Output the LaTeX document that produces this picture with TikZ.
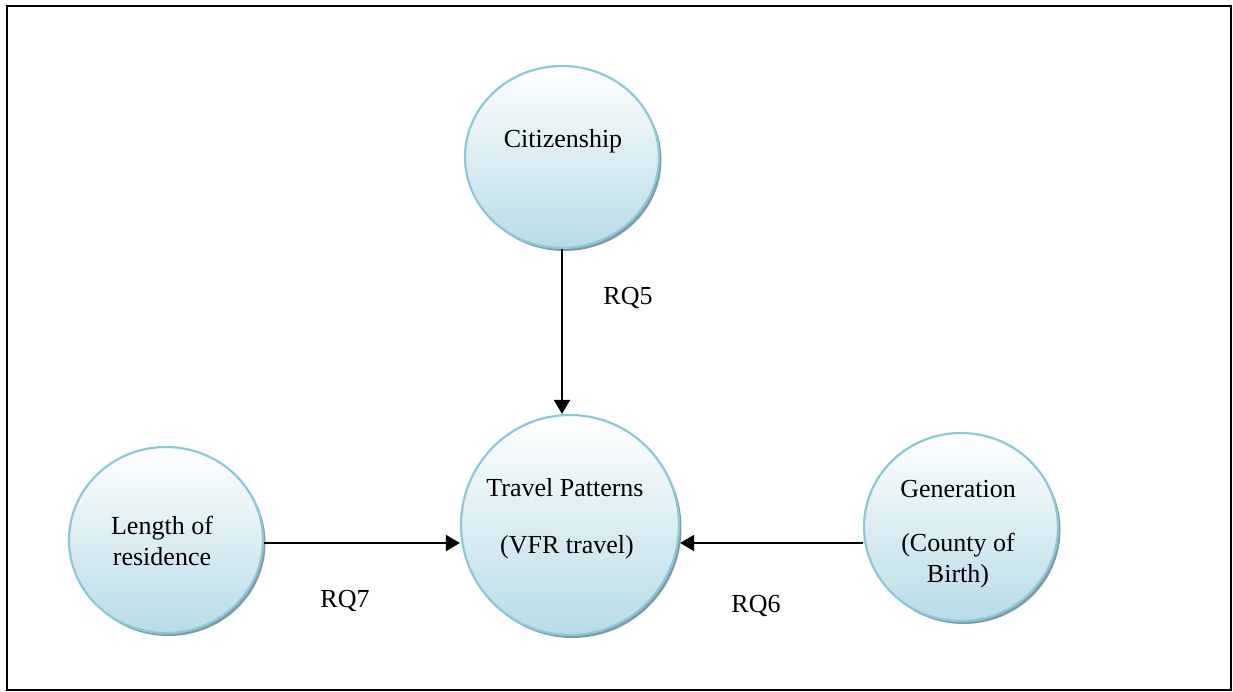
\documentclass[tikz,border=0pt]{standalone}
\usepackage{fontspec}
\setmainfont{Liberation Serif}
\usetikzlibrary{shapes.geometric,arrows.meta,shadows}
\definecolor{circEdge}{HTML}{8CC8D8}
\definecolor{circBot}{HTML}{B7DCE6}
\definecolor{circShadow}{HTML}{7E9CA6}
\begin{document}
\begin{tikzpicture}[x=1pt,y=-1pt,
  bubble/.style={ellipse, draw=circEdge, line width=2.2pt, top color=white, bottom color=circBot, inner sep=0pt,
    drop shadow={shadow xshift=2.5pt, shadow yshift=-3pt, fill=circShadow, opacity=1}},
  txt/.style={font=\fontsize{26}{31}\selectfont, align=center, inner sep=0pt},
  arr/.style={-{Triangle[length=14pt,width=16pt]}, line width=2pt, black}]
\useasboundingbox (0,0) rectangle (1233,692);
\draw[line width=1.8pt] (7,6) rectangle (1231,690);
\node[bubble, minimum width=194pt, minimum height=182pt] (cit) at (562,157) {};
\node[bubble, minimum width=218pt, minimum height=220pt] (trav) at (570,525) {};
\node[bubble, minimum width=194pt, minimum height=186pt] (len) at (166,540) {};
\node[bubble, minimum width=194pt, minimum height=188pt] (gen) at (961,527) {};
\node[txt] (citt) at (563,141) {Citizenship};
\node[txt] (trav1) at (565,488) {Travel Patterns};
\node[txt] (trav2) at (567,547) {(VFR travel)};
\node[txt] (lent) at (162,541) {Length of\\residence};
\node[txt] (gen1) at (958,489) {Generation};
\node[txt] (gen2) at (958,561) {(County of\\Birth)};
\coordinate (ya) at (0,543);
\draw[arr] (cit.south) -- (cit.south |- trav.north);
\draw[arr] (len.east |- ya) -- (trav.west |- ya);
\draw[arr] (gen.west |- ya) -- (trav.east |- ya);
\node[txt] (rq5) at (628,298) {RQ5};
\node[txt] (rq7) at (345,601) {RQ7};
\node[txt] (rq6) at (756,606) {RQ6};
\end{tikzpicture}
\end{document}
